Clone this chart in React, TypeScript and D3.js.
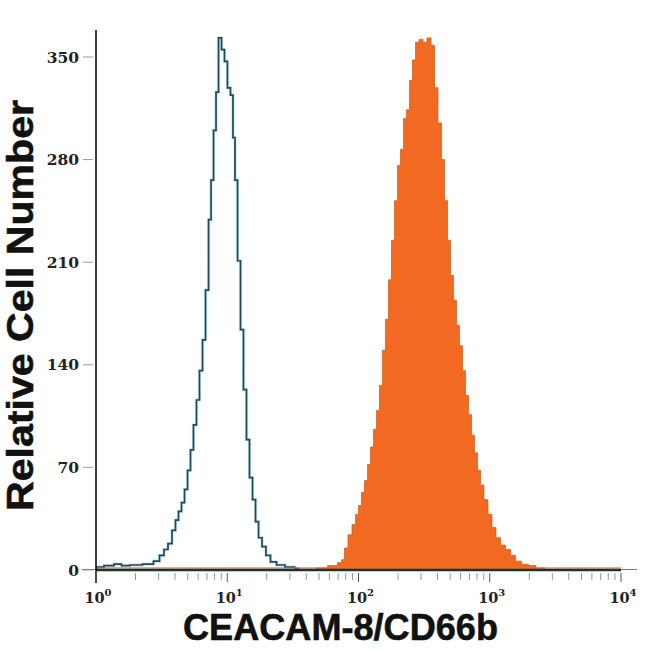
import React from "react";
import * as d3 from "d3";

// Isotype control histogram (outline): log10 intensity and relative cell count
const controlLog = [0.0, 0.015, 0.107, 0.168, 0.221, 0.297, 0.411, 0.465, 0.503, 0.533, 0.564, 0.594, 0.617, 0.64, 0.663, 0.686, 0.709, 0.731, 0.754, 0.777, 0.8, 0.823, 0.846, 0.869, 0.884, 0.907, 0.922, 0.945, 0.968, 0.99, 1.013, 1.036, 1.051, 1.067, 1.09, 1.112, 1.135, 1.158, 1.181, 1.204, 1.227, 1.25, 1.28, 1.31, 1.349, 1.402, 1.478, 1.55];
const controlCount = [1, 2, 3, 4, 3, 3.4, 4, 6, 10, 14, 18, 27, 34, 40, 46, 55, 68, 82, 99, 116, 136, 157, 191, 239, 266, 300, 326, 363, 355, 347, 329, 324, 295, 266, 211, 164, 123, 89, 63, 48, 33, 22, 16, 10, 5.5, 3.4, 2, 1];

// CEACAM-8/CD66b stained histogram (filled)
const stainedLog = [1.65, 1.707, 1.821, 1.859, 1.882, 1.905, 1.935, 1.966, 1.989, 2.011, 2.034, 2.057, 2.08, 2.103, 2.126, 2.149, 2.171, 2.194, 2.217, 2.24, 2.263, 2.286, 2.309, 2.331, 2.354, 2.377, 2.4, 2.423, 2.446, 2.476, 2.507, 2.537, 2.568, 2.59, 2.621, 2.644, 2.667, 2.69, 2.712, 2.735, 2.758, 2.781, 2.804, 2.827, 2.85, 2.872, 2.895, 2.918, 2.941, 2.971, 3.002, 3.032, 3.063, 3.101, 3.139, 3.177, 3.215, 3.269, 3.322, 3.383, 3.459];
const stainedCount = [0, 1.4, 3, 5, 7, 15, 24, 31, 38, 44, 53, 61, 72, 84, 96, 109, 126, 150, 171, 198, 225, 252, 276, 287, 308, 314, 334, 348, 360, 362, 360, 363, 358, 329, 305, 280, 252, 225, 201, 184, 167, 153, 136, 119, 106, 92, 80, 68, 58, 48, 38, 29, 22, 17, 14, 10, 6, 4, 3, 1.4, 0];

const yTickValues = [0, 70, 140, 210, 280, 350];
const xDecades = [0, 1, 2, 3, 4];
const xTitle = "CEACAM-8/CD66b";
const yTitle = "Relative Cell Number";

export default function App() {
  const x = d3.scaleLog().domain([1, 10000]).range([96, 621]);
  const y = d3.scaleLinear().domain([0, 350]).range([570, 57]);

  const control = controlLog.map((v, i) => ({ v: Math.pow(10, v), c: controlCount[i] }));
  const stained = stainedLog.map((v, i) => ({ v: Math.pow(10, v), c: stainedCount[i] }));

  const line = d3
    .line<{ v: number; c: number }>()
    .x((d) => x(d.v))
    .y((d) => y(d.c))
    .curve(d3.curveStep);
  const area = d3
    .area<{ v: number; c: number }>()
    .x((d) => x(d.v))
    .y0(y(0))
    .y1((d) => y(d.c))
    .curve(d3.curveStep);

  const ticks = x.ticks();
  const isMajor = (t: number) => Math.abs(Math.log10(t) - Math.round(Math.log10(t))) < 1e-9;

  const serif = "'DejaVu Serif', serif";
  const sans = "'Liberation Sans', Arial, sans-serif";

  return (
    <svg width={650} height={650} style={{ position: "absolute", left: 0, top: 0, background: "#fff" }}>
      {/* stained histogram */}
      <path d={area(stained) || ""} fill="#f26a22" stroke="#d0651f" strokeWidth={0.8} />
      {/* control histogram */}
      <path d={line(control) || ""} fill="none" stroke="#a9d6ea" strokeWidth={3.4} opacity={0.55} />
      <path d={line(control) || ""} fill="none" stroke="#1d4a5b" strokeWidth={1.7} />

      {/* x axis line */}
      <line x1={82} x2={637} y1={y(0) - 0.5} y2={y(0) - 0.5} stroke="#777" strokeWidth={1} />
      {/* baselines of the data */}
      <line x1={x(1)} x2={x(10000)} y1={y(0) - 2} y2={y(0) - 2} stroke="#e8702a" strokeWidth={1.5} opacity={0.8} />
      <line x1={x(1)} x2={x(10000)} y1={y(0)} y2={y(0)} stroke="#16343d" strokeWidth={2.4} />

      {/* y axis */}
      <line x1={96} x2={96} y1={30} y2={583} stroke="#111" strokeWidth={1.6} />
      {yTickValues.map((t) => (
        <g key={"y" + t}>
          <line x1={83} x2={93} y1={y(t)} y2={y(t)} stroke="#999" strokeWidth={1} />
          <text
            x={79}
            y={y(t) + 5.5}
            textAnchor="end"
            fontFamily={serif}
            fontWeight="bold"
            fontSize={15.5}
            fill="#222"
          >
            {t}
          </text>
        </g>
      ))}

      {/* x ticks */}
      {ticks.map((t, i) => (
        <line
          key={"xt" + i}
          x1={x(t)}
          x2={x(t)}
          y1={573}
          y2={isMajor(t) ? 582 : 580}
          stroke={isMajor(t) ? "#555" : "#999"}
          strokeWidth={1}
        />
      ))}
      {xDecades.map((p) => (
        <text
          key={"xl" + p}
          x={x(Math.pow(10, p)) + 2}
          y={603}
          textAnchor="middle"
          fontFamily={serif}
          fontWeight="bold"
          fontSize={14.5}
          fill="#222"
        >
          10
          <tspan fontSize={10} dy={-7}>
            {p}
          </tspan>
        </text>
      ))}

      {/* titles */}
      <text
        x={183}
        y={640}
        fontFamily={sans}
        fontWeight="bold"
        fontSize={37}
        textLength={315}
        lengthAdjust="spacingAndGlyphs"
        fill="#111"
        stroke="#111"
        strokeWidth={0.6}
      >
        {xTitle}
      </text>
      <text
        transform={`translate(33, 511) rotate(-90)`}
        x={0}
        y={0}
        fontFamily={sans}
        fontWeight="bold"
        fontSize={37}
        textLength={411}
        lengthAdjust="spacingAndGlyphs"
        fill="#111"
        stroke="#111"
        strokeWidth={0.6}
      >
        {yTitle}
      </text>
    </svg>
  );
}
